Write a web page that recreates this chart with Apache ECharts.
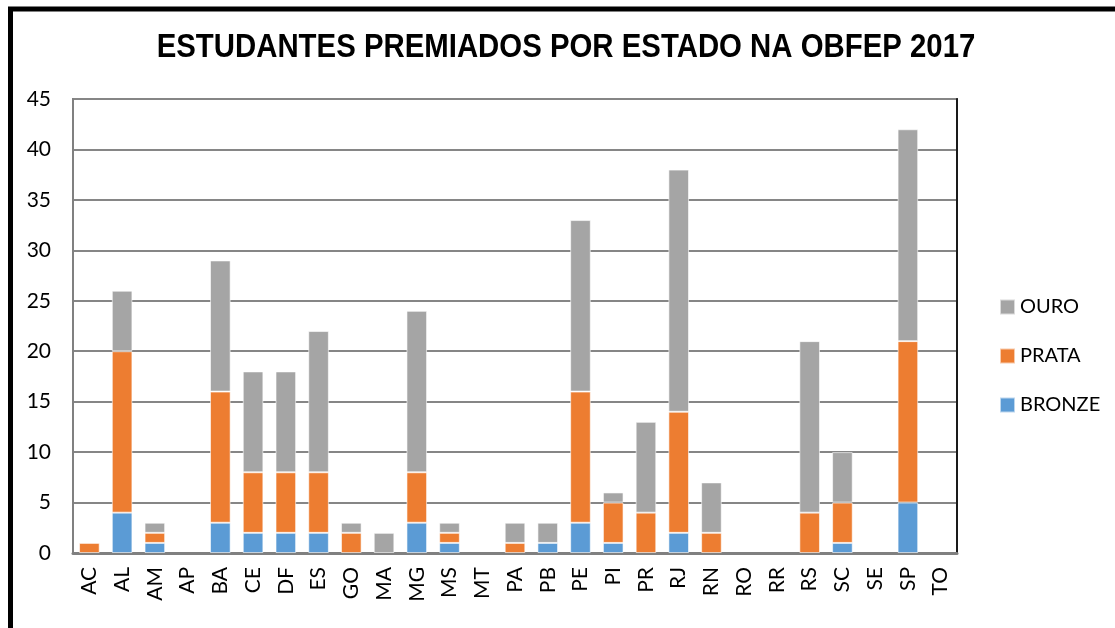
<!DOCTYPE html>
<html>
<head>
<meta charset="utf-8">
<title>Estudantes premiados por estado na OBFEP 2017</title>
<script src="https://cdn.jsdelivr.net/npm/echarts@6/dist/echarts.min.js"></script>
<style>
html, body { margin: 0; padding: 0; background: #fff; }
#chart { width: 1115px; height: 628px; }
</style>
</head>
<body>
<div id="chart"></div>
<script>
// estados (eixo x)
const estados = ['AC', 'AL', 'AM', 'AP', 'BA', 'CE', 'DF', 'ES', 'GO', 'MA', 'MG', 'MS', 'MT', 'PA',
  'PB', 'PE', 'PI', 'PR', 'RJ', 'RN', 'RO', 'RR', 'RS', 'SC', 'SE', 'SP', 'TO']
// medalhas por estado
const bronze = [0, 4, 1, 0, 3, 2, 2, 2, 0, 0, 3, 1, 0, 0, 1, 3, 1, 0, 2, 0, 0, 0, 0, 1, 0, 5, 0]
const prata = [1, 16, 1, 0, 13, 6, 6, 6, 2, 0, 5, 1, 0, 1, 0, 13, 4, 4, 12, 2, 0, 0, 4, 4, 0, 16, 0]
const ouro = [0, 6, 1, 0, 13, 10, 10, 14, 1, 2, 16, 1, 0, 2, 2, 17, 1, 9, 24, 5, 0, 0, 17, 5, 0, 21, 0]
// eixo y
const yMin = 0
const yMax = 45
const yStep = 5

const chart = echarts.init(document.getElementById('chart'))

const labelFont = 'Lato, "Open Sans", sans-serif'

function serie(name, data, color) {
  return {
    name: name,
    type: 'bar',
    stack: 'total',
    barWidth: '63%',
    // zero nao desenha barra (evita a borda branca no eixo)
    data: data.map(v => (v === 0 ? '-' : v)),
    itemStyle: { color: color, borderColor: 'rgba(255,255,255,0.6)', borderWidth: 1 },
    emphasis: { disabled: true }
  }
}

chart.setOption({
  animation: false,
  legend: {
    orient: 'vertical',
    left: 994,
    top: 292,
    itemWidth: 15,
    itemHeight: 15,
    itemGap: 29,
    icon: 'rect',
    data: ['OURO', 'PRATA', 'BRONZE'],
    textStyle: { fontFamily: labelFont, fontSize: 20, color: '#000' }
  },
  grid: {
    left: 73,
    right: 158,
    top: 99,
    bottom: 75,
    show: true,
    borderColor: '#808080',
    borderWidth: 2
  },
  xAxis: {
    type: 'category',
    data: estados,
    axisLine: { lineStyle: { color: '#808080', width: 3 } },
    axisTick: { show: false },
    axisLabel: {
      rotate: 90,
      margin: 14,
      interval: 0,
      fontFamily: labelFont,
      fontSize: 21,
      color: '#000'
    }
  },
  yAxis: [{
    type: 'value',
    min: yMin,
    max: yMax,
    interval: yStep,
    axisLine: { show: true, lineStyle: { color: '#808080', width: 2 } },
    axisTick: { show: false },
    splitLine: { lineStyle: { color: '#868686', width: 2 } },
    axisLabel: {
      margin: 22,
      fontFamily: labelFont,
      fontSize: 21,
      color: '#000'
    }
  }, {
    type: 'value',
    position: 'right',
    min: yMin,
    max: yMax,
    interval: yStep,
    axisLine: { show: true, lineStyle: { color: '#1a1a1a', width: 2 } },
    axisTick: { show: false },
    axisLabel: { show: false },
    splitLine: { show: false }
  }],
  series: [
    serie('BRONZE', bronze, '#5B9BD5'),
    serie('PRATA', prata, '#ED7D31'),
    serie('OURO', ouro, '#A5A5A5')
  ],
  graphic: [{
    // titulo comprimido na horizontal, como no original
    type: 'text',
    x: 566,
    y: 48,
    scaleX: 0.89,
    style: {
      text: 'ESTUDANTES PREMIADOS POR ESTADO NA OBFEP 2017',
      fontFamily: '"Liberation Sans", Arial, sans-serif',
      fontWeight: 'bold',
      fontSize: 33,
      fill: '#000',
      align: 'center',
      verticalAlign: 'middle'
    }
  }, {
    type: 'polyline',
    shape: { points: [[10.5, 640], [10.5, 9], [1130, 9]] },
    style: { stroke: '#000', lineWidth: 5, fill: null },
    z: 10
  }]
})
</script>
</body>
</html>
